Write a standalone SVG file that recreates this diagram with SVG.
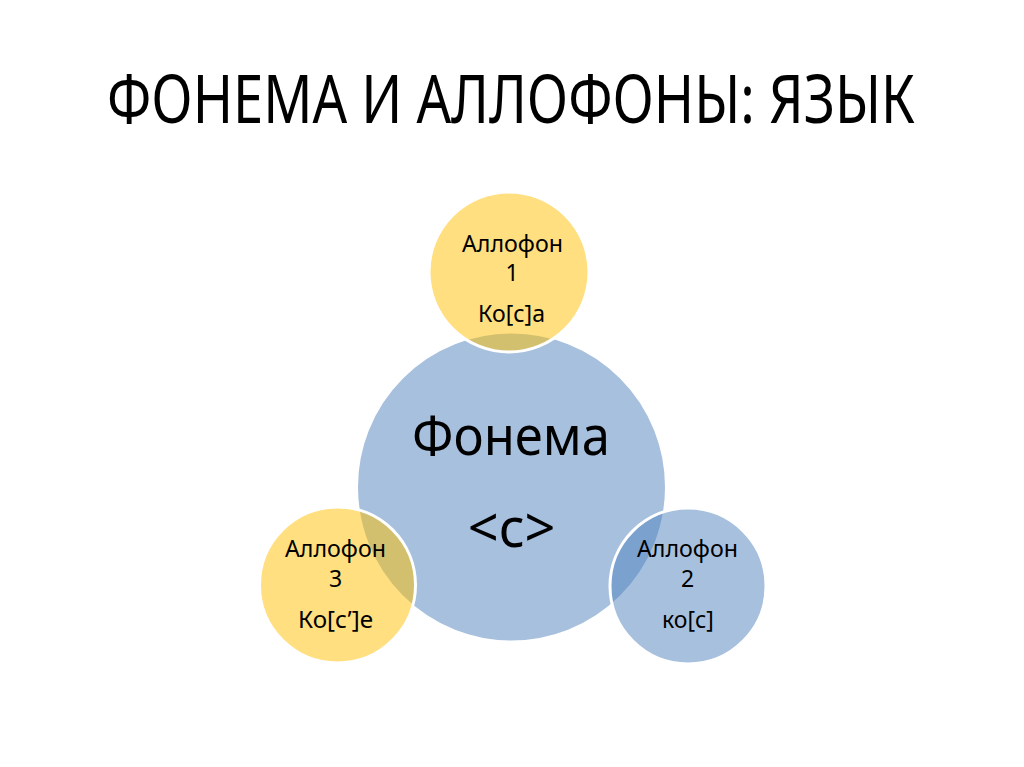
<svg xmlns="http://www.w3.org/2000/svg" width="1024" height="767" viewBox="0 0 1024 767">
<style>
.t{font-family:"Noto Sans","Open Sans","Liberation Sans",sans-serif;fill:#000;text-anchor:middle}
.s{font-size:23px}
.blue{fill:#4F81BD;fill-opacity:0.5;stroke:#fff;stroke-width:3}
.yel{fill:#FFC000;fill-opacity:0.5;stroke:#fff;stroke-width:3}
</style>
<rect width="1024" height="767" fill="#fff"/>
<text class="t" x="511" y="123" font-size="68" textLength="808" lengthAdjust="spacingAndGlyphs">ФОНЕМА И АЛЛОФОНЫ: ЯЗЫК</text>
<g id="connectors"></g>
<g id="phoneme">
<circle class="blue" cx="511.5" cy="487" r="155"/>
</g>
<g id="allophone1">
<circle class="yel" cx="509" cy="272" r="80"/>
</g>
<g id="allophone3">
<circle class="yel" cx="337.5" cy="585" r="78"/>
</g>
<g id="allophone2">
<circle class="blue" cx="688" cy="586" r="78"/>
</g>
<g id="labels">
<text class="t" x="511" y="455" font-size="54" textLength="198" lengthAdjust="spacingAndGlyphs">Фонема</text>
<text class="t" x="511.5" y="547" font-size="54">&lt;c&gt;</text>
<text class="t s" x="512.5" y="252" textLength="101" lengthAdjust="spacingAndGlyphs">Аллофон</text>
<text class="t s" x="512" y="281">1</text>
<text class="t s" x="511.5" y="322" textLength="67" lengthAdjust="spacingAndGlyphs">Ко[с]а</text>
<text class="t s" x="335.5" y="557" textLength="101" lengthAdjust="spacingAndGlyphs">Аллофон</text>
<text class="t s" x="335.5" y="587">3</text>
<text class="t s" x="335.5" y="628" textLength="75" lengthAdjust="spacingAndGlyphs">Ко[с’]е</text>
<text class="t s" x="687.5" y="557" textLength="101" lengthAdjust="spacingAndGlyphs">Аллофон</text>
<text class="t s" x="687.5" y="587">2</text>
<text class="t s" x="688" y="628">ко[с]</text>
</g>
</svg>
